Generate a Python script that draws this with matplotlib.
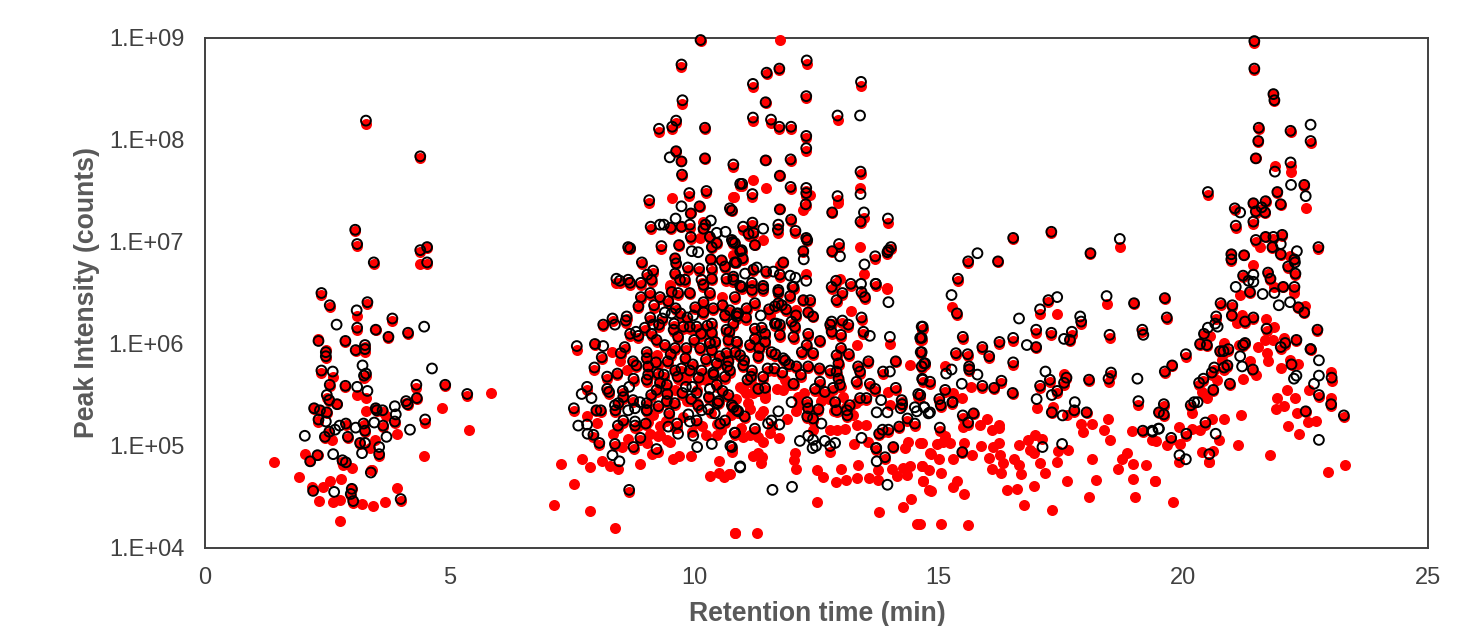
import matplotlib
matplotlib.use('Agg')
import matplotlib.pyplot as plt
import numpy as np

# Values: retention time (min), log10 of peak intensity.
# Peaks seen in both runs, by retention time window
rt_a = [3.29,4.40,3.07,3.11,3.45,4.40,4.54,4.54,2.38,2.55,
        3.32,3.10,3.11,3.83,3.49,3.75,4.15,2.32,2.87,3.08,
        3.27,3.27,2.47,2.47,2.38,3.29,3.25,2.55,2.87,4.32,
        4.91,5.36,2.49,2.54,2.70,2.23,2.35,2.49,3.49,3.51,
        3.63,4.11,4.14,4.33,3.88,4.50,2.32,2.88,2.54,2.45,
        3.24,3.27,3.64,2.92,3.17,3.56,2.30,2.15,2.81,2.88,
        3.39,3.00,2.98,3.03,2.21,4.00]
black_a = [8.19,7.84,7.12,6.98,6.80,6.92,6.95,6.80,6.50,6.38,
           6.41,6.33,6.16,6.25,6.14,6.07,6.11,6.03,6.03,5.94,
           5.99,5.95,5.92,5.88,5.74,5.71,5.69,5.60,5.59,5.60,
           5.60,5.51,5.50,5.45,5.41,5.37,5.35,5.33,5.37,5.35,
           5.35,5.44,5.41,5.47,5.24,5.26,5.26,5.22,5.14,5.09,
           5.22,5.15,5.20,5.09,5.03,4.92,4.91,4.85,4.86,4.84,
           4.74,4.58,4.53,4.46,4.56,4.48]
red_a = [8.16,7.82,7.11,6.96,6.78,6.90,6.94,6.78,6.48,6.36,
         6.39,6.27,6.14,6.23,6.14,6.06,6.10,6.05,6.02,5.93,
         5.97,5.92,5.94,5.86,5.72,5.69,5.67,5.59,5.58,5.57,
         5.59,5.49,5.47,5.44,5.41,5.36,5.35,5.32,5.36,5.34,
         5.33,5.42,5.40,5.46,5.23,5.23,5.25,5.21,5.13,5.08,
         5.21,5.14,5.19,5.08,5.02,4.90,4.91,4.85,4.84,4.82,
         4.76,4.58,4.51,4.44,4.58,4.46]

rt_b = [10.13,9.74,9.76,9.63,9.55,9.28,10.22,9.63,9.74,10.22,
        9.75,10.80,10.94,9.90,10.25,9.08,9.93,10.11,10.73,10.77,
        9.11,9.52,9.74,9.91,10.23,10.19,9.93,10.32,10.77,10.83,
        8.65,8.69,9.33,9.69,10.46,10.36,10.94,9.61,9.63,10.34,
        10.56,8.93,9.87,10.10,10.36,10.63,10.83,9.16,9.04,8.41,
        8.48,8.65,8.69,8.91,9.13,9.61,9.71,9.81,10.15,10.36,
        10.66,10.80,8.91,9.10,9.30,8.86,9.54,9.67,9.91,10.19,
        10.32,10.83,10.19,10.39,10.73,9.62,10.19,10.63,10.87,9.10,
        8.62,8.60,8.33,8.14,9.28,8.99,9.59,9.78,9.91,10.05,
        10.36,10.36,10.80,10.66,8.69,8.86,9.13,9.67,10.00,10.32,
        10.70,10.87,7.60,7.97,8.58,8.50,9.23,9.40,9.61,9.84,
        10.12,10.36,10.66,9.03,8.11,9.03,8.75,9.46,10.46,10.70]
black_b = [8.98,8.74,8.39,8.19,8.13,8.11,8.12,7.89,7.79,7.82,
           7.66,7.76,7.57,7.48,7.50,7.41,7.28,7.35,7.33,7.31,
           7.15,7.14,7.15,7.17,7.17,7.13,7.05,7.05,7.02,6.99,
           6.95,6.94,6.96,6.97,6.99,6.95,6.91,6.84,6.79,6.83,
           6.82,6.80,6.75,6.74,6.74,6.76,6.80,6.72,6.68,6.64,
           6.62,6.63,6.60,6.60,6.63,6.69,6.63,6.63,6.63,6.64,
           6.64,6.63,6.46,6.50,6.46,6.37,6.51,6.50,6.50,6.58,
           6.50,6.46,6.41,6.35,6.33,6.35,6.31,6.28,6.27,6.26,
           6.27,6.23,6.25,6.19,6.19,6.16,6.20,6.17,6.17,6.17,
           6.20,6.11,6.20,6.14,6.10,6.08,6.10,6.07,6.04,6.01,
           6.04,6.02,5.98,6.00,5.97,5.91,6.04,5.99,5.96,5.96,
           5.96,5.94,5.91,5.92,5.87,5.86,5.83,5.83,5.81,5.83]
red_b = [8.97,8.72,8.35,8.17,8.11,8.08,8.11,7.88,7.79,7.81,
         7.65,7.74,7.55,7.45,7.48,7.38,7.28,7.34,7.31,7.30,
         7.13,7.13,7.15,7.14,7.16,7.12,7.03,7.04,7.01,6.98,
         6.93,6.93,6.93,6.96,6.98,6.94,6.89,6.83,6.78,6.82,
         6.81,6.78,6.73,6.72,6.72,6.75,6.79,6.70,6.66,6.60,
         6.60,6.61,6.58,6.58,6.61,6.68,6.62,6.61,6.60,6.63,
         6.62,6.61,6.44,6.48,6.44,6.35,6.49,6.48,6.49,6.56,
         6.48,6.44,6.39,6.33,6.31,6.33,6.29,6.26,6.25,6.24,
         6.25,6.21,6.23,6.18,6.17,6.14,6.18,6.15,6.15,6.15,
         6.18,6.09,6.18,6.12,6.08,6.06,6.08,6.05,6.02,5.99,
         6.02,6.00,5.94,5.99,5.95,5.89,6.02,5.97,5.94,5.94,
         5.94,5.92,5.89,5.90,5.85,5.84,5.81,5.81,5.79,5.81]

rt_c = [8.82,9.06,7.96,9.74,9.61,9.91,10.15,10.39,10.73,8.43,
        9.27,8.22,8.76,9.03,10.63,9.06,9.44,7.81,8.22,8.26,
        8.54,9.23,9.45,10.46,10.58,8.45,8.55,8.75,9.03,9.27,
        7.54,8.00,8.09,8.39,9.03,10.48,10.77,10.87,9.49,10.05,
        10.53,10.63,8.44,8.55,8.79,9.01,9.65,8.90,8.06,8.38,
        8.76,9.23,8.67,7.94]
black_c = [5.79,5.78,5.77,5.76,5.74,5.74,5.74,5.72,5.74,5.71,
           5.71,5.68,5.66,5.65,5.68,5.70,5.60,5.58,5.56,5.53,
           5.54,5.55,5.51,5.60,5.54,5.42,5.48,5.45,5.42,5.39,
           5.37,5.35,5.35,5.35,5.35,5.42,5.40,5.35,5.32,5.25,
           5.22,5.25,5.20,5.25,5.20,5.22,5.22,5.08,5.03,5.02,
           4.99,4.97,4.57,5.11]
red_c = [5.77,5.76,5.75,5.74,5.73,5.73,5.72,5.71,5.72,5.70,
         5.69,5.66,5.64,5.63,5.66,5.68,5.58,5.55,5.54,5.51,
         5.52,5.53,5.49,5.58,5.52,5.40,5.46,5.43,5.40,5.37,
         5.34,5.34,5.33,5.33,5.33,5.41,5.38,5.33,5.30,5.23,
         5.21,5.23,5.18,5.23,5.18,5.21,5.20,5.06,5.01,5.00,
         4.97,4.94,4.55,5.09]

rt_d = [12.30,11.74,11.48,11.20,12.29,13.41,11.46,11.20,11.57,11.74,
        11.98,12.93,12.29,12.29,11.46,11.97,11.75,10.98,11.97,11.19,
        12.29,12.29,13.40,12.93,12.28,11.75,12.82,13.47,13.40,13.96,
        11.98,11.19,11.00,11.72,11.71,12.07,12.29,12.31,11.11,11.21,
        11.24,12.23,10.79,12.82,12.96,13.70,14.02,13.97,13.95,10.97,
        10.99,10.86,11.82,11.21,11.47,11.75,10.80,11.18,11.41,11.72,
        12.03,12.90,13.20,13.71,12.81,10.94,12.01,11.41,10.97,11.18,
        11.72,11.96,13.03,12.91,13.42,13.49,12.23,12.37,11.72,11.79,
        11.65,11.07,12.33,12.43,10.87,11.65,11.75,11.99,12.06,12.81,
        13.03,13.15,13.42,14.65,14.62,14.63,14.72,14.65,13.46,12.81,
        12.78,13.00,11.24,11.45,11.75,12.33,12.03,11.24,12.57,10.87,
        11.14,11.45,13.00,12.30,10.94,11.31,11.58,11.82,12.20,12.43,
        12.91,13.16,13.56,14.12,11.00,11.86,12.09,12.33,12.56,12.95,
        13.35,13.86,11.18,11.64,12.78,12.91,13.39,11.41,11.09,12.03,
        12.57,12.95,13.32,13.59,11.31,11.45,12.47,12.67,12.84,12.98,
        13.70,14.12,14.58,13.52,13.39,12.31,12.88,13.18,14.24,14.25,
        12.33,12.54,12.91,13.12,13.13,10.80,10.90,11.03,12.31,12.43,
        14.36,14.51,14.19,13.97,13.85,13.78,10.83,11.24,14.07,13.72,
        13.90,10.77]
black_d = [8.78,8.70,8.66,8.55,8.43,8.57,8.37,8.22,8.20,8.13,
           8.13,8.24,8.04,7.92,7.80,7.81,7.65,7.57,7.54,7.47,
           7.53,7.48,7.69,7.45,7.37,7.32,7.29,7.29,7.20,7.23,
           7.22,7.19,7.15,7.17,7.12,7.11,7.04,7.02,7.08,7.09,
           6.97,6.91,7.00,6.91,6.98,6.86,6.95,6.92,6.90,6.92,
           6.84,6.80,6.80,6.73,6.71,6.68,6.66,6.60,6.57,6.53,
           6.56,6.62,6.59,6.59,6.56,6.57,6.56,6.54,6.56,6.53,
           6.51,6.47,6.50,6.43,6.51,6.46,6.43,6.43,6.40,6.38,
           6.37,6.35,6.31,6.27,6.30,6.20,6.19,6.22,6.17,6.22,
           6.23,6.19,6.26,6.17,6.06,5.92,5.81,5.78,6.12,6.12,
           6.19,6.09,6.15,6.10,6.09,6.10,6.07,6.05,6.03,6.02,
           5.99,6.02,5.96,5.99,5.89,5.88,5.92,5.86,5.92,5.91,
           5.89,5.90,5.83,5.83,5.79,5.84,5.78,5.78,5.76,5.81,
           5.78,5.73,5.74,5.76,5.74,5.73,5.73,5.68,5.65,5.61,
           5.63,5.66,5.63,5.61,5.56,5.57,5.56,5.53,5.57,5.60,
           5.56,5.57,5.51,5.47,5.47,5.43,5.43,5.40,5.45,5.41,
           5.37,5.36,5.35,5.35,5.30,5.38,5.34,5.29,5.29,5.27,
           5.27,5.22,5.19,5.16,5.16,5.12,5.13,5.17,4.99,4.98,
           4.89,4.99]
red_d = [8.75,8.69,8.65,8.52,8.41,8.53,8.36,8.19,8.17,8.11,
         8.11,8.20,8.02,7.89,7.80,7.79,7.65,7.55,7.52,7.44,
         7.50,7.45,7.67,7.41,7.35,7.32,7.28,7.24,7.19,7.19,
         7.21,7.17,7.12,7.14,7.09,7.09,7.03,7.01,7.06,7.07,
         6.97,6.90,6.98,6.90,6.95,6.83,6.93,6.91,6.88,6.90,
         6.82,6.79,6.79,6.72,6.70,6.66,6.65,6.58,6.56,6.51,
         6.54,6.60,6.57,6.57,6.54,6.55,6.54,6.52,6.54,6.51,
         6.49,6.45,6.48,6.41,6.49,6.44,6.42,6.41,6.38,6.36,
         6.35,6.33,6.30,6.26,6.28,6.18,6.17,6.20,6.15,6.20,
         6.21,6.17,6.24,6.14,6.04,5.90,5.79,5.76,6.10,6.10,
         6.17,6.07,6.13,6.08,6.07,6.08,6.05,6.03,6.02,6.00,
         5.97,6.00,5.94,5.97,5.87,5.86,5.90,5.84,5.90,5.89,
         5.87,5.88,5.81,5.82,5.77,5.82,5.76,5.76,5.75,5.79,
         5.76,5.71,5.72,5.74,5.72,5.71,5.71,5.66,5.63,5.60,
         5.61,5.64,5.61,5.59,5.54,5.55,5.54,5.51,5.55,5.58,
         5.54,5.55,5.48,5.45,5.45,5.41,5.41,5.38,5.43,5.39,
         5.35,5.34,5.33,5.33,5.28,5.36,5.32,5.27,5.27,5.25,
         5.25,5.20,5.18,5.14,5.14,5.11,5.11,5.15,4.98,4.96,
         4.87,4.97]

rt_e = [17.30,16.52,18.70,18.10,15.60,16.21,15.39,15.37,17.24,17.07,
        18.43,18.99,17.91,16.99,17.30,17.72,17.68,18.49,19.16,15.49,
        16.24,16.52,16.99,15.89,16.03,15.59,15.35,14.67,14.65,14.70,
        16.52,15.62,15.62,17.61,17.56,18.07,18.52,18.47,15.89,16.13,
        16.28,14.82,14.67,17.27,17.07,17.42,16.51,15.13,15.01,15.04,
        15.28,14.62,19.08,17.31,17.77,18.02,15.49,15.71,15.60,15.02,
        19.17,15.48]
black_e = [7.10,7.04,7.03,6.89,6.81,6.81,6.64,6.30,6.43,6.34,
           6.47,6.40,6.22,6.14,6.11,6.12,6.04,6.09,6.14,6.07,
           6.02,6.06,5.97,5.97,5.88,5.90,5.91,6.17,6.06,5.81,
           5.82,5.78,5.75,5.67,5.62,5.65,5.72,5.66,5.59,5.57,
           5.64,5.63,5.65,5.65,5.59,5.54,5.52,5.55,5.46,5.40,
           5.43,5.50,5.44,5.33,5.35,5.33,5.30,5.32,5.23,5.18,
           5.15,4.94]
red_e = [7.09,7.03,6.95,6.88,6.79,6.80,6.62,6.28,6.41,6.29,
         6.39,6.39,6.20,6.11,6.09,6.09,6.03,6.06,6.12,6.05,
         6.00,6.03,5.96,5.95,5.86,5.88,5.89,6.15,6.04,5.79,
         5.79,5.76,5.74,5.66,5.60,5.64,5.70,5.63,5.57,5.56,
         5.62,5.61,5.63,5.63,5.57,5.52,5.51,5.53,5.44,5.38,
         5.41,5.48,5.40,5.32,5.33,5.32,5.27,5.31,5.21,5.15,
         5.14,4.93]

rt_f = [21.45,21.45,21.84,21.86,21.54,22.19,22.60,21.53,21.48,22.19,
        22.47,21.92,20.50,21.99,21.05,21.43,21.68,21.48,21.60,21.67,
        21.43,21.07,21.48,21.68,21.84,22.02,21.82,21.99,22.76,20.98,
        20.98,21.24,22.27,22.14,22.29,21.22,21.73,21.78,22.04,22.27,
        21.36,22.35,22.47,19.62,19.66,20.76,21.00,20.99,20.67,21.43,
        21.26,21.70,22.74,20.42,20.34,20.48,21.26,21.22,22.08,21.99,
        22.31,20.05,20.75,20.92,20.82,22.60,22.21,20.90,20.83,20.63,
        20.58,21.42,20.41,20.32,19.77,19.62,20.95,20.61,23.03,22.77,
        23.02,23.28,20.15,19.60,19.50,19.60,22.50,20.45,20.06,19.75,
        20.53]
black_f = [8.97,8.70,8.45,8.39,8.12,8.09,7.99,7.99,7.82,7.78,
           7.56,7.49,7.49,7.37,7.33,7.38,7.40,7.30,7.34,7.29,
           7.20,7.16,7.02,7.05,7.05,7.07,6.95,6.88,6.95,6.88,
           6.83,6.87,6.83,6.76,6.69,6.67,6.70,6.64,6.56,6.56,
           6.51,6.36,6.31,6.45,6.26,6.40,6.38,6.28,6.27,6.26,
           6.22,6.15,6.14,6.10,6.00,5.99,6.01,5.99,6.01,5.97,
           6.04,5.90,5.93,5.95,5.93,5.95,5.80,5.79,5.77,5.77,
           5.72,5.75,5.66,5.62,5.79,5.73,5.61,5.55,5.67,5.50,
           5.41,5.30,5.40,5.41,5.33,5.31,5.34,5.23,5.12,5.08,
           4.92]
red_f = [8.95,8.69,8.44,8.38,8.11,8.08,7.97,7.98,7.82,7.75,
         7.55,7.48,7.46,7.36,7.31,7.37,7.39,7.28,7.32,7.28,
         7.18,7.14,7.00,7.05,7.03,7.06,6.94,6.87,6.93,6.87,
         6.81,6.87,6.82,6.75,6.68,6.66,6.69,6.63,6.56,6.54,
         6.50,6.35,6.30,6.44,6.25,6.38,6.36,6.27,6.25,6.25,
         6.21,6.13,6.13,6.09,5.99,5.98,6.00,5.98,5.99,5.95,
         6.03,5.87,5.92,5.93,5.91,5.94,5.79,5.77,5.75,5.75,
         5.70,5.74,5.64,5.60,5.78,5.72,5.60,5.54,5.64,5.48,
         5.39,5.28,5.38,5.39,5.32,5.29,5.33,5.21,5.10,5.06,
         4.84]

# Dense core around 9-13 min, estimated
rt_core = [9.18,9.35,9.47,9.58,9.72,9.86,10.02,10.14,10.27,10.43,
           10.58,10.72,10.90,11.06,11.24,11.38,11.53,11.68,11.88,12.08,
           9.22,9.38,9.52,9.66,9.82,9.97,10.09,10.24,10.40,10.52,
           10.68,10.84,11.02,11.16,11.33,11.50,11.66,11.80,11.94,12.18,
           9.12,9.30,9.44,9.60,9.76,9.94,10.08,10.30,10.50,10.70]
black_core = [6.38,6.25,6.42,6.14,6.30,6.26,6.36,6.10,6.18,6.02,
              6.38,6.12,6.30,6.26,6.40,6.16,6.34,6.20,6.34,6.28,
              5.82,5.70,5.90,5.68,5.86,5.80,5.67,5.85,5.70,5.88,
              5.78,5.92,5.84,5.68,5.96,5.76,5.90,5.72,5.80,5.70,
              5.50,5.62,5.44,5.42,5.52,5.46,5.40,5.48,5.44,5.50]
red_core = [6.35,6.23,6.40,6.12,6.27,6.24,6.34,6.08,6.16,6.00,
            6.36,6.10,6.28,6.24,6.38,6.14,6.32,6.18,6.32,6.26,
            5.80,5.68,5.88,5.66,5.84,5.78,5.65,5.83,5.68,5.86,
            5.76,5.90,5.82,5.66,5.94,5.74,5.88,5.70,5.78,5.68,
            5.48,5.60,5.42,5.40,5.50,5.44,5.38,5.46,5.42,5.48]

# Peaks with an open marker only
rt_open = [2.69,4.48,4.64,3.32,3.88,3.90,4.19,2.04,3.46,3.71,3.08,2.62,2.64,3.56,3.21,3.27,3.22,2.61,3.11,2.47,2.75,2.66,
           9.50,9.74,9.62,9.38,9.30,10.34,10.46,10.64,9.95,10.08,
           9.40,9.54,9.98,9.16,8.38,8.81,10.32,7.70,7.90,8.67,8.14,9.96,10.05,9.83,10.32,8.38,8.89,8.65,8.79,9.03,10.15,10.29,9.88,9.91,10.42,
           7.63,7.81,7.82,8.79,9.47,9.67,9.98,10.83,10.06,10.36,8.33,8.47,10.94,10.74,
           13.39,13.40,11.41,12.24,12.98,13.48,11.62,11.96,12.07,12.29,11.28,11.04,
           13.71,13.41,14.00,13.59,13.97,11.36,14.65,14.66,14.00,13.82,14.22,14.51,14.70,14.55,14.79,13.73,13.95,11.99,11.58,11.51,11.74,11.72,12.60,
           13.42,12.16,12.33,12.43,12.67,12.88,12.78,12.49,12.42,13.72,13.73,10.94,11.60,12.00,13.95,
           15.79,15.26,17.42,16.64,17.89,17.56,19.18,16.80,15.79,15.26,15.15,15.47,19.06,17.18,17.31,17.00,15.28,14.70,14.82,17.78,17.53,19.36,19.49,17.12,17.52,
           22.60,21.87,22.20,22.50,21.16,21.99,22.32,22.28,21.43,21.33,21.43,21.07,21.62,21.86,21.95,22.18,22.60,22.77,21.20,21.16,22.31,22.26,22.77,22.67,22.77,20.66,19.92,20.05,19.37,19.50,20.29,20.22,20.50,20.65,20.70]
log_open = [6.19,6.17,5.76,5.54,5.39,5.31,5.16,5.10,5.23,5.09,5.18,4.92,4.55,4.99,4.93,5.03,5.79,5.73,5.58,5.24,5.20,5.16,
            7.83,7.35,7.23,7.17,7.17,7.21,7.09,7.10,6.91,6.90,
            6.31,6.30,6.28,6.19,6.19,6.12,6.01,5.51,5.47,5.58,5.98,5.58,5.52,5.58,5.56,5.40,5.43,5.35,5.37,5.35,5.35,5.36,5.31,5.24,5.32,
            5.20,5.21,5.12,5.24,5.19,5.12,5.10,5.13,4.99,5.02,4.91,4.85,4.80,5.00,
            8.24,7.47,7.13,6.83,6.86,6.78,6.71,6.67,6.65,6.62,6.75,6.69,
            6.59,6.59,6.07,6.08,6.41,6.28,5.92,5.66,5.73,5.45,5.37,5.38,5.38,5.34,5.32,5.33,5.33,5.43,5.25,5.22,5.21,5.34,5.22,
            5.08,5.05,5.10,5.06,5.05,5.03,5.00,5.00,4.98,4.98,4.85,4.79,4.57,4.60,4.62,
            6.89,6.48,6.46,6.25,6.27,6.05,6.09,5.99,5.70,5.75,5.71,5.61,5.66,5.73,5.50,5.46,5.43,5.38,5.33,5.43,5.30,5.15,5.17,4.99,5.02,
            8.15,7.69,7.56,7.45,7.29,6.98,6.91,6.80,6.68,6.62,6.61,6.56,6.49,6.50,6.38,6.41,5.95,5.84,5.78,5.88,5.69,5.66,5.69,5.61,5.06,5.12,4.91,4.87,5.14,5.17,5.43,5.43,6.16,6.20,6.17]

# Peaks with a filled marker only
rt_solid = [5.84,4.84,5.39,4.48,1.42,2.04,1.92,2.18,2.42,2.56,2.77,2.33,2.62,2.76,3.21,3.43,3.67,3.92,2.75,3.00,2.83,3.30,3.47,3.37,3.93,3.71,2.59,3.30,3.10,2.61,2.32,3.42,4.40,
            9.55,10.80,10.12,10.19,10.80,9.50,
            7.27,7.54,7.14,7.88,8.39,10.83,7.70,7.88,8.11,8.28,8.45,8.89,9.13,9.57,9.69,9.93,10.51,10.32,10.51,10.61,10.71,9.50,9.30,9.10,8.52,8.35,8.65,9.03,9.27,10.25,10.46,10.77,9.30,8.02,7.80,9.50,9.61,9.71,10.05,10.46,8.31,8.48,8.62,9.23,9.27,9.84,10.25,10.56,9.50,10.94,
            11.75,11.20,11.47,10.81,12.37,12.23,13.39,12.93,11.41,13.38,13.48,12.29,11.75,12.98,13.95,
            13.95,13.20,11.10,11.41,10.83,11.28,12.50,13.78,14.44,14.26,14.55,14.80,14.67,12.89,13.10,13.32,13.57,13.76,12.64,12.50,13.01,13.35,12.09,12.03,12.06,11.20,11.31,11.38,11.36,10.73,13.76,14.04,14.27,14.41,14.65,14.14,14.34,14.82,14.62,14.31,14.38,13.56,13.27,12.78,11.74,11.55,11.41,11.00,11.14,11.31,12.78,13.08,13.32,13.52,12.43,12.91,12.09,11.86,11.82,11.00,11.45,11.21,12.13,13.97,13.05,14.00,13.32,12.09,11.55,14.41,14.00,
            17.42,15.26,17.01,17.34,17.63,17.90,18.14,18.46,18.38,18.95,17.95,18.50,19.35,18.84,18.74,18.96,19.23,18.66,18.96,19.42,18.21,19.01,18.07,18.13,17.62,17.41,17.17,17.06,16.95,16.59,16.39,16.74,17.31,15.60,15.05,14.62,15.52,15.30,15.38,14.85,14.68,15.04,14.79,14.65,15.01,14.85,15.30,15.67,14.96,15.09,15.22,15.52,15.86,15.13,14.65,16.11,16.24,16.03,16.25,16.32,16.54,16.64,16.09,16.28,16.68,16.63,16.83,16.97,17.10,16.86,16.95,17.43,17.65,15.84,15.99,16.23,16.08,16.24,15.50,15.13,15.30,15.47,15.65,17.56,
            21.88,22.20,22.50,22.96,23.30,21.78,21.11,20.53,20.61,20.37,19.90,19.42,19.78,22.37,22.14,21.18,20.82,20.58,20.34,20.17,19.90,20.73,19.93,19.66,19.45,22.72,22.55,22.32,21.89,22.06,21.92,22.12,22.29,22.57,23.01,23.02,21.99,22.35,22.18,21.73,21.70,21.53,21.67,21.85,21.68,21.84,22.06,21.36,21.48,21.22,21.14,20.82,20.78,20.68,20.37,20.48,20.18,21.19,21.10,20.54,22.48,21.85,21.42,22.26,22.18,21.56,21.16,
            9.15,9.42,9.60,9.78,9.95,10.15,10.35,10.55,10.75,10.95,11.15,11.35,11.60,11.90,12.15,12.40,12.60,12.85,13.10,13.30,
            8.85,9.05,9.25,9.45,9.65,9.85,10.05,10.30,10.60,10.85,11.05,11.25,11.45,11.70,11.95,12.25,12.55,12.75,13.00,13.25]
log_solid = [5.52,5.37,5.16,4.90,4.84,4.92,4.70,4.60,4.60,4.66,4.68,4.46,4.45,4.47,4.43,4.41,4.45,4.59,4.26,4.78,4.81,5.34,5.06,4.98,5.12,5.29,5.06,5.47,5.50,5.68,5.24,4.76,6.78,
             7.43,7.44,7.04,7.20,6.87,6.56,
             4.82,4.63,4.42,4.36,4.20,4.15,4.87,4.79,4.85,4.80,4.77,4.82,4.92,4.87,4.90,4.90,4.85,4.71,4.74,4.70,4.73,5.04,5.11,5.12,4.99,5.12,5.07,5.03,4.94,5.11,5.11,4.94,5.20,5.23,5.29,5.42,5.55,5.65,5.42,5.22,5.92,5.83,5.75,5.89,5.79,5.65,5.65,6.46,6.58,5.58,
             8.98,7.61,7.53,7.44,7.46,7.31,7.53,7.38,7.02,6.95,6.69,6.69,6.77,6.64,6.55,
             6.54,6.32,5.42,5.34,4.15,4.15,4.45,4.35,4.48,4.40,4.24,4.57,4.66,4.65,4.67,4.69,4.69,4.67,4.70,4.76,4.77,4.81,4.77,4.86,4.93,4.90,4.93,4.89,4.83,4.73,4.76,4.77,4.78,4.80,4.80,4.71,4.72,4.93,5.03,4.98,5.04,5.04,5.02,4.94,5.08,5.13,5.04,5.09,5.11,5.09,5.16,5.17,5.21,5.21,5.16,5.16,5.34,5.65,5.55,5.56,5.47,5.52,5.48,5.53,5.48,6.00,5.99,6.33,6.28,5.79,5.40,
             6.29,6.36,5.37,5.38,5.30,5.22,5.22,5.26,5.16,5.15,5.14,5.06,5.06,4.93,4.87,4.82,4.81,4.77,4.68,4.66,4.67,4.50,4.50,4.87,4.66,4.84,4.74,4.83,4.61,4.58,4.57,4.42,4.37,4.23,4.24,4.24,4.53,4.60,4.66,4.56,4.66,4.74,4.76,4.80,4.87,4.92,4.87,4.91,5.02,5.04,5.03,5.03,5.00,5.10,5.03,4.99,5.03,4.88,4.91,4.83,4.87,4.81,4.77,4.74,4.73,5.01,5.06,5.11,5.07,4.96,4.93,4.95,4.96,5.21,5.26,5.21,5.16,5.18,5.19,5.78,5.52,5.47,5.58,5.71,
             7.75,7.69,7.33,4.75,4.81,4.91,5.01,4.84,4.95,4.94,4.84,4.66,4.45,5.12,5.20,5.30,5.26,5.26,5.16,5.17,5.19,5.06,5.02,5.01,5.05,5.25,5.24,5.32,5.36,5.39,5.47,5.55,5.47,5.55,5.47,5.73,5.76,5.80,5.84,5.83,5.91,5.97,6.04,6.17,6.25,6.04,6.06,5.83,5.70,5.66,5.99,6.01,5.84,5.65,5.53,5.47,5.32,6.28,6.21,6.08,6.37,6.56,6.77,6.50,6.86,6.95,6.48,
             5.30,5.25,5.18,5.28,5.14,5.20,5.32,5.16,5.30,5.18,5.36,5.30,5.20,5.26,5.40,5.30,5.44,5.34,5.38,5.42,
             5.20,5.24,5.10,5.06,5.18,5.44,5.55,5.48,5.50,5.46,5.52,5.58,5.50,5.56,5.60,5.52,5.54,5.46,5.58,5.30]

x_ticks = [0, 5, 10, 15, 20, 25]
y_ticks = [1e4, 1e5, 1e6, 1e7, 1e8, 1e9]
y_labels = ['1.E+04', '1.E+05', '1.E+06', '1.E+07', '1.E+08', '1.E+09']

plt.rcParams['font.family'] = ['Liberation Sans', 'DejaVu Sans']

fig = plt.figure(figsize=(14.57, 6.26), dpi=100)
ax = fig.add_axes([205 / 1457, 1 - 548 / 626, 1223 / 1457, 510 / 626])

red_x = rt_a + rt_b + rt_c + rt_d + rt_e + rt_f + rt_core + rt_solid
red_y = np.array(red_a + red_b + red_c + red_d + red_e + red_f + red_core + log_solid)
black_x = rt_a + rt_b + rt_c + rt_d + rt_e + rt_f + rt_core + rt_open
black_y = np.array(black_a + black_b + black_c + black_d + black_e + black_f + black_core + log_open)

ax.scatter(red_x, 10 ** red_y, s=63, c='#ff0000', linewidths=0, clip_on=False, zorder=3)
ax.scatter(black_x, 10 ** black_y, s=50, facecolors='none', edgecolors='black',
           linewidths=1.4, clip_on=False, zorder=4)

ax.set_yscale('log')
ax.set_xlim(0, 25)
ax.set_ylim(1e4, 1e9)
ax.set_xticks(x_ticks)
ax.set_yticks(y_ticks)
ax.set_yticklabels(y_labels)
ax.minorticks_off()
ax.tick_params(axis='both', labelsize=17, labelcolor='#404040', length=0)
ax.tick_params(axis='x', pad=14)
ax.tick_params(axis='y', pad=15)
for side in ax.spines.values():
    side.set_color('#404040')
    side.set_linewidth(1.4)

fig.text(817 / 1457, 1 - 614 / 626, 'Retention time (min)', fontsize=19.2, fontweight='bold',
         color='#595959', ha='center', va='center')
fig.text(87 / 1457, 1 - 292 / 626, 'Peak Intensity (counts)', fontsize=19.2, fontweight='bold',
         color='#595959', ha='center', va='center', rotation=90)

fig.savefig('out.png', dpi=100)
